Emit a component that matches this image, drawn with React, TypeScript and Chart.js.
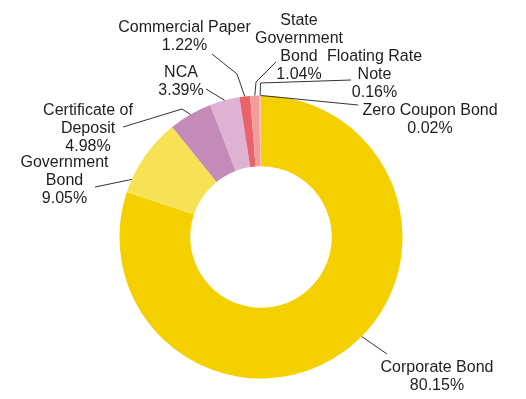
import React, { useEffect, useRef } from 'react';
import { Chart, registerables } from 'chart.js';

Chart.register(...registerables);

// ---- data ----
const categories = [
  'Corporate Bond',
  'Government Bond',
  'Certificate of Deposit',
  'NCA',
  'Commercial Paper',
  'State Government Bond',
  'Floating Rate Note',
  'Zero Coupon Bond',
];
const values = [80.15, 9.05, 4.98, 3.39, 1.22, 1.04, 0.16, 0.02];
const wrappedNames = [
  ['Corporate Bond'],
  ['Government', 'Bond'],
  ['Certificate of', 'Deposit'],
  ['NCA'],
  ['Commercial Paper'],
  ['State', 'Government', 'Bond'],
  ['Floating Rate', 'Note'],
  ['Zero Coupon Bond'],
];

// ---- styles ----
const colors = ['#F5D000', '#F7E154', '#C48BB8', '#DDB2D2', '#E9636A', '#F49B9C', '#F7BFA8', '#FBD5C0'];

// label layout, offsets (px) from the doughnut centre
const labelLayout = [
  { tx: 176, ty: 135, adj: -9.6, pts: [[126, 117]] },
  { tx: -196.5, ty: -69.7, adj: -10.8, pts: [[-166, -50]] },
  { tx: -173, ty: -122, adj: 0, pts: [[-79, -128], [-138, -110]] },
  { tx: -80, ty: -160, adj: 0, pts: [[-55, -148]] },
  { tx: -76.5, ty: -205, adj: 0, pts: [[-24, -163], [-49, -183]] },
  { tx: 38, ty: -212, adj: 0, pts: [[-5, -155], [15, -175]] },
  { tx: 113.5, ty: -176, adj: 0, pts: [[-0.5, -154], [90, -157]] },
  { tx: 169, ty: -122, adj: 0, pts: [[97, -132]] },
];

const FONT = '16px "Liberation Sans", Arial, Helvetica, sans-serif';
const LINE_H = 18;

const outsideLabels = {
  id: 'outsideLabels',
  afterDatasetsDraw(chart: any) {
    const ctx = chart.ctx;
    const meta = chart.getDatasetMeta(0);
    ctx.save();
    meta.data.forEach((arc: any, i: number) => {
      const p = arc.getProps(['x', 'y', 'startAngle', 'endAngle', 'outerRadius'], true);
      const lay = labelLayout[i];
      const mid = (p.startAngle + p.endAngle) / 2 + (lay.adj * Math.PI) / 180;
      const sx = p.x + Math.cos(mid) * p.outerRadius;
      const sy = p.y + Math.sin(mid) * p.outerRadius;
      ctx.beginPath();
      ctx.moveTo(sx, sy);
      lay.pts.forEach((pt: number[]) => ctx.lineTo(p.x + pt[0], p.y + pt[1]));
      ctx.strokeStyle = '#333333';
      ctx.lineWidth = 1;
      ctx.stroke();

      const lines = [...wrappedNames[i], values[i].toFixed(2) + '%'];
      ctx.font = FONT;
      ctx.fillStyle = '#1e1e1e';
      ctx.textAlign = 'center';
      ctx.textBaseline = 'alphabetic';
      lines.forEach((t, k) => {
        ctx.fillText(t, p.x + lay.tx, p.y + lay.ty + k * LINE_H);
      });
    });
    ctx.restore();
  },
};

export default function App() {
  const ref = useRef<HTMLCanvasElement | null>(null);
  useEffect(() => {
    if (!ref.current) return;
    const chart = new Chart(ref.current, {
      type: 'doughnut',
      data: {
        labels: categories,
        datasets: [
          {
            data: values,
            backgroundColor: colors,
            borderWidth: 0,
          },
        ],
      },
      options: {
        responsive: false,
        animation: false,
        cutout: '50%',
        layout: { padding: { left: 119.5, right: 123.5, top: 95.5, bottom: 20.5 } },
        plugins: {
          legend: { display: false },
          tooltip: { enabled: false },
        },
      },
      plugins: [outsideLabels],
    });
    return () => chart.destroy();
  }, []);
  return (
    <div style={{ position: 'absolute', left: 0, top: 0, width: 526, height: 399, background: '#fff' }}>
      <canvas ref={ref} width={526} height={399} style={{ width: 526, height: 399 }} />
    </div>
  );
}
